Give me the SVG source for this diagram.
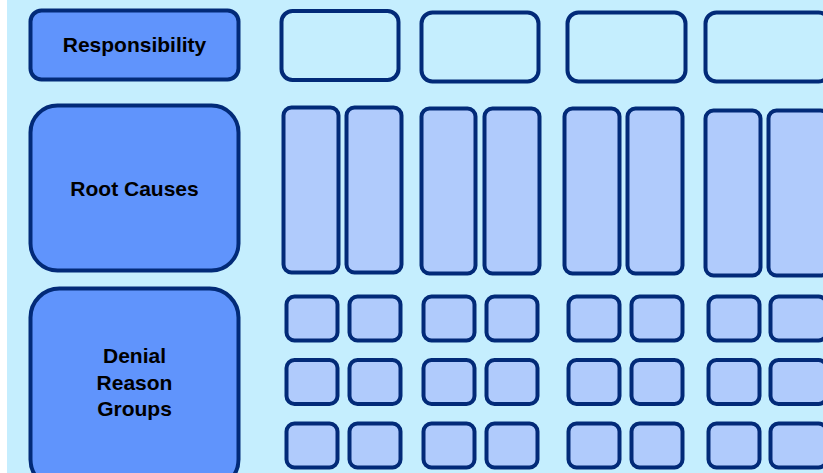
<svg xmlns="http://www.w3.org/2000/svg" width="823" height="473" viewBox="0 0 823 473">
<style>
.bg{fill:#c5eefe}
.lbl{fill:#6094fc;stroke:#022a78;stroke-width:4}
.emp{fill:#c5eefe;stroke:#022a78;stroke-width:4}
.cell{fill:#b0cbfc;stroke:#022a78;stroke-width:4}
text{font-family:"Liberation Sans",Arial,sans-serif;font-weight:bold;font-size:21px;fill:#000;text-anchor:middle}
</style>
<rect x="0" y="0" width="823" height="473" fill="#ffffff"/>
<rect class="bg" x="7" y="0" width="816" height="473"/>
<g id="responsibility"><rect class="lbl" x="30.5" y="10.5" width="208" height="69" rx="11"/><text x="134.5" y="52">Responsibility</text></g>
<g id="root-causes"><rect class="lbl" x="30.5" y="105.5" width="208" height="165" rx="27"/><text x="134.5" y="196">Root Causes</text></g>
<g id="denial-reason-groups"><rect class="lbl" x="30.5" y="288.5" width="208" height="200" rx="29"/><text x="134.5" y="363">Denial</text><text x="134.5" y="389.5">Reason</text><text x="134.5" y="416">Groups</text></g>
<g id="resp-1"><rect class="emp" x="281.5" y="11" width="117" height="69" rx="11"/></g>
<g id="resp-2"><rect class="emp" x="421.5" y="12.5" width="117" height="69" rx="11"/></g>
<g id="resp-3"><rect class="emp" x="567.5" y="12.5" width="118" height="69" rx="11"/></g>
<g id="resp-4"><rect class="emp" x="705.5" y="12.5" width="124" height="69" rx="11"/></g>
<g id="rc-1"><rect class="cell" x="283.5" y="107.5" width="55" height="165" rx="8"/></g>
<g id="rc-2"><rect class="cell" x="346.5" y="107.5" width="55" height="165" rx="8"/></g>
<g id="rc-3"><rect class="cell" x="421.5" y="108.5" width="54" height="165" rx="8"/></g>
<g id="rc-4"><rect class="cell" x="484.5" y="108.5" width="55" height="165" rx="8"/></g>
<g id="rc-5"><rect class="cell" x="564.5" y="108.5" width="55" height="165" rx="8"/></g>
<g id="rc-6"><rect class="cell" x="627.5" y="108.5" width="55" height="165" rx="8"/></g>
<g id="rc-7"><rect class="cell" x="705.5" y="110.5" width="55" height="165" rx="8"/></g>
<g id="rc-8"><rect class="cell" x="768.5" y="110.5" width="60" height="165" rx="8"/></g>
<g id="drg-r1">
<rect class="cell" x="286.5" y="296.5" width="51" height="44" rx="8"/>
<rect class="cell" x="349.5" y="296.5" width="51" height="44" rx="8"/>
<rect class="cell" x="423.5" y="296.5" width="51" height="44" rx="8"/>
<rect class="cell" x="486.5" y="296.5" width="51" height="44" rx="8"/>
<rect class="cell" x="568.5" y="296.5" width="51" height="44" rx="8"/>
<rect class="cell" x="631.5" y="296.5" width="51" height="44" rx="8"/>
<rect class="cell" x="708.5" y="296.5" width="51" height="44" rx="8"/>
<rect class="cell" x="770.5" y="296.5" width="56" height="44" rx="8"/>
</g>
<g id="drg-r2">
<rect class="cell" x="286.5" y="360" width="51" height="44" rx="8"/>
<rect class="cell" x="349.5" y="360" width="51" height="44" rx="8"/>
<rect class="cell" x="423.5" y="360" width="51" height="44" rx="8"/>
<rect class="cell" x="486.5" y="360" width="51" height="44" rx="8"/>
<rect class="cell" x="568.5" y="360" width="51" height="44" rx="8"/>
<rect class="cell" x="631.5" y="360" width="51" height="44" rx="8"/>
<rect class="cell" x="708.5" y="360" width="51" height="44" rx="8"/>
<rect class="cell" x="770.5" y="360" width="56" height="44" rx="8"/>
</g>
<g id="drg-r3">
<rect class="cell" x="286.5" y="423.5" width="51" height="44" rx="8"/>
<rect class="cell" x="349.5" y="423.5" width="51" height="44" rx="8"/>
<rect class="cell" x="423.5" y="423.5" width="51" height="44" rx="8"/>
<rect class="cell" x="486.5" y="423.5" width="51" height="44" rx="8"/>
<rect class="cell" x="568.5" y="423.5" width="51" height="44" rx="8"/>
<rect class="cell" x="631.5" y="423.5" width="51" height="44" rx="8"/>
<rect class="cell" x="708.5" y="423.5" width="51" height="44" rx="8"/>
<rect class="cell" x="770.5" y="423.5" width="56" height="44" rx="8"/>
</g>
<g id="connectors"></g>
</svg>
